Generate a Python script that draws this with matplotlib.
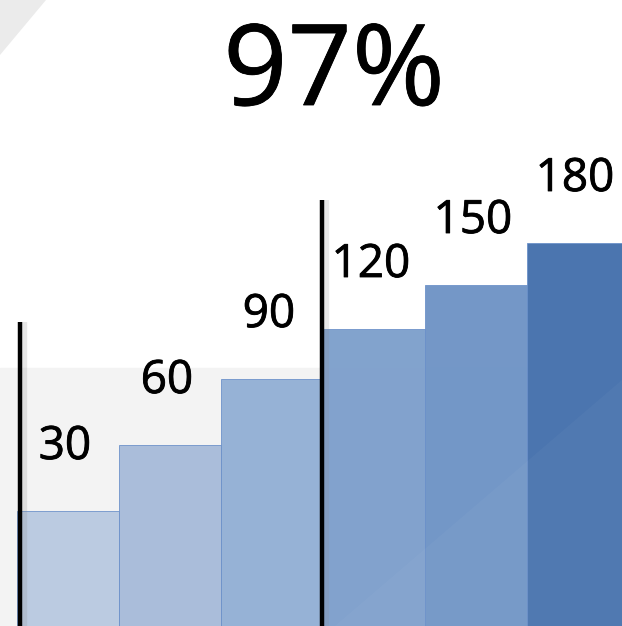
import matplotlib.pyplot as plt
import matplotlib.patheffects as pe
from matplotlib.patches import Polygon

# values shown above the bars and the drawn bar heights (pixel-ish units)
labels = ['30', '60', '90', '120', '150', '180']
heights = [115, 181, 247, 297, 341, 383]
colors = ['#b9cae1', '#a8bcda', '#93b0d5', '#7ea0cc', '#6f94c6', '#4571ad']
title = '97%'

W, H = 622, 626
fig = plt.figure(figsize=(W / 100, H / 100), dpi=100)
ax = fig.add_axes([0, 0, 1, 1])
ax.set_xlim(-0.667, 5.431)
ax.set_ylim(0, H)
ax.axis('off')

# light gray band behind the lower part
ax.axhspan(0, 258, color='#f3f3f3', zorder=0)

# gray triangle in top-left corner
ax.add_patch(Polygon([[0, 1], [46 / W, 1], [0, 1 - 55 / H]], closed=True,
                     transform=ax.transAxes, color='#ebebeb', zorder=0, lw=0))

x = list(range(len(heights)))
ax.bar(x, heights, width=1.0, color=colors, edgecolor='#6b90c9', linewidth=0.6,
       alpha=0.97, zorder=2)

# faint lighter triangle over bottom right
ax.add_patch(Polygon([[1, 1 - 380 / H], [335 / W, 0], [1, 0]], closed=True,
                     transform=ax.transAxes, color='white', alpha=0.03, zorder=3, lw=0))

thick = [pe.withStroke(linewidth=0.6, foreground='black')]
for xi, h, lab in zip(x, heights, labels):
    ax.text(xi - 0.03, h + 52, lab, ha='center', va='baseline', fontsize=33,
            family='Open Sans', color='black', zorder=5, path_effects=thick)

# vertical marker lines with soft shadow
for lx, top in [(-0.471, 304), (2.49, 426)]:
    ax.plot([lx + 0.03, lx + 0.03], [0, top], color='#888888', lw=6, alpha=0.2,
            solid_capstyle='butt', zorder=3)
    ax.plot([lx, lx], [0, top], color='black', lw=3.2, solid_capstyle='butt', zorder=4)

fig.text(334 / W, 1 - 105 / H, title, ha='center', va='baseline', fontsize=81,
         family='Open Sans', color='black', path_effects=thick)

fig.savefig('out.png', dpi=100)
